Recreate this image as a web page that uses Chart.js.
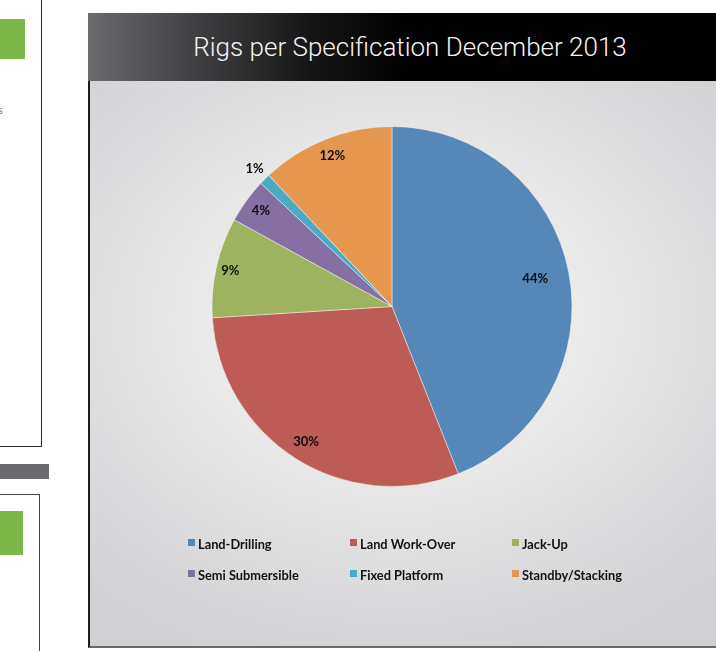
<!DOCTYPE html>
<html>
<head>
<meta charset="utf-8">
<title>Rigs per Specification</title>
<script src="https://cdn.jsdelivr.net/npm/chart.js@4.4.1/dist/chart.umd.min.js"></script>
<style>
  html, body { margin: 0; padding: 0; }
  body {
    width: 716px; height: 651px; overflow: hidden;
    position: relative; background: #fff;
    font-family: Lato, "Open Sans", sans-serif;
  }
  .side-box { position: absolute; left: -10px; background: #fff; }
  .side-box .tag { position: absolute; left: 0; background: #7ab648; }
  #box1 { top: -2px; width: 50px; height: 447px; border: 1px solid #2b2b2b; }
  #box1 .tag { top: 20px; width: 34px; height: 40px; }
  #box1 .note { position: absolute; left: 7px; top: 104px; font-size: 11px; color: #777; }
  #bar { position: absolute; left: 0; top: 464px; width: 49px; height: 15px; background: #6b6b70; }
  #box2 { top: 494px; width: 48px; height: 200px; border: 1px solid #444; }
  #box2 .tag { top: 16px; width: 32px; height: 44px; }

  #panel { position: absolute; left: 88px; top: 13px; width: 640px; height: 635px; }
  #head {
    height: 68px;
    background: linear-gradient(90deg, #6b6b6f 0%, #444447 15%, #151515 35%, #000 50%, #000 100%);
    color: #f4f4f4; text-align: center;
    font-family: Roboto, "Liberation Sans", sans-serif; font-weight: 300;
    font-size: 26px; line-height: 68px; padding-left: 4px; box-sizing: border-box;
  }
  #plot {
    position: absolute; left: 0; top: 68px; width: 640px; height: 567px;
    border-left: 2px solid #1c1c1c; border-bottom: 2px solid #6a6a6a; box-sizing: border-box;
    background: radial-gradient(ellipse 72% 64% at 48% 42%, #f3f3f4 0%, #ebebec 38%, #dcdcde 72%, #d1d1d3 100%);
  }
  #plot canvas { position: absolute; left: 0; top: 0; }
  #legend {
    position: absolute; left: 98px; top: 456px;
    display: grid; grid-template-columns: repeat(3, 162px); grid-auto-rows: 31px;
    font-weight: 700; font-size: 12.8px; color: #111;
  }
  #legend .item { display: flex; align-items: flex-start; }
  #legend .sw { width: 7px; height: 7px; margin-top: 2px; margin-right: 3px; flex: none; }
  #legend span { line-height: 14px; }
</style>
</head>
<body>
<div class="side-box" id="box1"><div class="tag"></div><div class="note">s</div></div>
<div id="bar"></div>
<div class="side-box" id="box2"><div class="tag"></div></div>

<div id="panel">
  <div id="head">Rigs per Specification December 2013</div>
  <div id="plot">
    <canvas id="rigs-chart" width="638" height="565"></canvas>
    <div id="legend"></div>
  </div>
</div>

<script>
const rigTypes = ['Land-Drilling', 'Land Work-Over', 'Jack-Up', 'Semi Submersible', 'Fixed Platform', 'Standby/Stacking'];
const rigShares = [44, 30, 9, 4, 1, 12];
const sliceColors = ['#5587b9', '#bd5b55', '#9db35f', '#8670a3', '#4aabc4', '#e5974f'];

// radial position of each percentage label, as a fraction of the pie radius
const labelRadius = [0.81, 0.89, 0.92, 0.9, 1.08, 0.9];

const sliceLabels = {
  id: 'sliceLabels',
  afterDatasetsDraw(chart) {
    const ctx = chart.ctx;
    const arcs = chart.getDatasetMeta(0).data;
    ctx.save();
    ctx.font = 'bold 13px Lato, "Open Sans", sans-serif';
    ctx.fillStyle = '#0d0d0d';
    ctx.textAlign = 'center';
    ctx.textBaseline = 'middle';
    arcs.forEach((arc, i) => {
      const { x, y, startAngle, endAngle, outerRadius } =
        arc.getProps(['x', 'y', 'startAngle', 'endAngle', 'outerRadius'], true);
      const mid = (startAngle + endAngle) / 2;
      const r = outerRadius * labelRadius[i];
      ctx.fillText(chart.data.datasets[0].data[i] + '%', x + Math.cos(mid) * r, y + Math.sin(mid) * r);
    });
    ctx.restore();
  }
};

const chart = new Chart(document.getElementById('rigs-chart'), {
  type: 'pie',
  data: {
    labels: rigTypes,
    datasets: [{
      data: rigShares,
      backgroundColor: sliceColors,
      borderColor: 'rgba(255,255,255,0.55)',
      borderWidth: 0.8,
      radius: 180
    }]
  },
  options: {
    responsive: false,
    animation: false,
    layout: { padding: { left: 0, right: 34, top: 40, bottom: 154 } },
    plugins: {
      legend: { display: false },
      tooltip: { enabled: false }
    }
  },
  plugins: [sliceLabels]
});

// legend laid out in a 3-column grid below the pie
const legendBox = document.getElementById('legend');
chart.data.labels.forEach((label, i) => {
  const item = document.createElement('div');
  item.className = 'item';
  item.innerHTML = `<div class="sw" style="background:${sliceColors[i]}"></div><span>${label}</span>`;
  legendBox.appendChild(item);
});
</script>
</body>
</html>
